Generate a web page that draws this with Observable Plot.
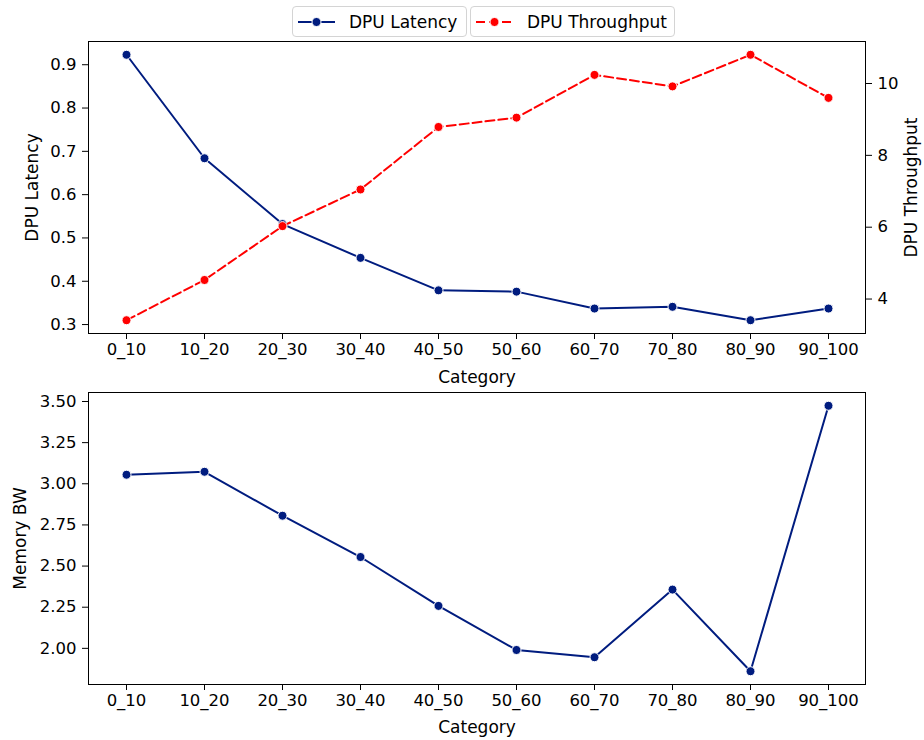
<!DOCTYPE html>
<html><head><meta charset="utf-8">
<script src="https://cdn.jsdelivr.net/npm/d3@7"></script>
<script src="https://cdn.jsdelivr.net/npm/@observablehq/plot@0.6"></script>
<style>
html,body{margin:0;padding:0;background:#fff;}
#wrap{position:relative;width:924px;height:740px;font-family:"DejaVu Sans",sans-serif;}
.chart{position:absolute;left:0;overflow:visible;}
.leg{position:absolute;top:6px;height:31px;box-sizing:border-box;border:1px solid #d4d4d4;border-radius:4px;background:#fff;display:flex;align-items:center;font-size:17px;color:#000;padding-left:5px;white-space:nowrap;}
.leg svg{margin-right:14px;flex-shrink:0;}
</style></head><body><div id="wrap"></div>
<script>
const categories = ["0_10","10_20","20_30","30_40","40_50","50_60","60_70","70_80","80_90","90_100"];
const dpuLatency = [0.923, 0.684, 0.532, 0.454, 0.379, 0.376, 0.337, 0.341, 0.310, 0.337];
const dpuThroughput = [3.41, 4.53, 6.03, 7.05, 8.79, 9.05, 10.24, 9.92, 10.80, 9.60];
const memoryBW = [3.055, 3.073, 2.806, 2.555, 2.258, 1.990, 1.946, 2.357, 1.861, 3.474];
const latencyTicks = [0.3, 0.4, 0.5, 0.6, 0.7, 0.8, 0.9];
const throughputTicks = [4, 6, 8, 10];
const memoryTicks = [2.00, 2.25, 2.50, 2.75, 3.00, 3.25, 3.50];

const BLUE = "#001c7f", RED = "#ff0000";
const rows = categories.map((c, i) => ({cat: c, latency: dpuLatency[i], throughput: dpuThroughput[i], mem: memoryBW[i]}));

function pad(vals) {
  const lo = d3.min(vals), hi = d3.max(vals), m = (hi - lo) * 0.05;
  return [lo - m, hi + m];
}

const common = {
  width: 924,
  marginLeft: 88,
  marginRight: 59,
  style: {fontFamily: "DejaVu Sans, sans-serif", fontSize: "16.5px", background: "transparent", color: "#000", overflow: "visible"},
  x: {type: "point", domain: categories, padding: 0.45}
};

function label(txt, opts) {
  return Plot.text([txt], {text: d => d, fontSize: 17, fill: "#000", lineAnchor: "middle", textAnchor: "middle", ...opts});
}

const wrap = document.getElementById("wrap");

// Legend
function legendBox(left, width, color, dash, text) {
  const d = document.createElement("div");
  d.className = "leg";
  d.style.left = left + "px";
  d.style.width = width + "px";
  d.innerHTML = `<svg width="37" height="12"><line x1="0" y1="6" x2="37" y2="6" stroke="${color}" stroke-width="2" ${dash ? 'stroke-dasharray="9,4"' : ''}/><circle cx="18.5" cy="6" r="4.5" fill="${color}" stroke="#fff" stroke-width="1"/></svg><span>${text}</span>`;
  wrap.appendChild(d);
}
legendBox(292, 175, BLUE, false, "DPU Latency");
legendBox(470, 205, RED, true, "DPU Throughput");

// Top chart: latency (left axis)
const p1 = Plot.plot({
  ...common,
  height: 352,
  marginTop: 3,
  marginBottom: 57,
  y: {domain: pad(dpuLatency)},
  marks: [
    Plot.frame({stroke: "#000", strokeWidth: 1}),
    Plot.axisX({tickSize: 6, tickPadding: 4, label: null}),
    Plot.axisY({ticks: latencyTicks, tickFormat: d3.format(".1f"), tickSize: 6, tickPadding: 6, label: null}),
    label("Category", {frameAnchor: "bottom", dy: 44}),
    label("DPU Latency", {frameAnchor: "left", dx: -56, rotate: -90}),
    Plot.line(rows, {x: "cat", y: "latency", stroke: BLUE, strokeWidth: 2}),
    Plot.dot(rows, {x: "cat", y: "latency", r: 4.5, fill: BLUE, stroke: "#fff", strokeWidth: 1})
  ]
});
p1.classList.add("chart");
p1.style.top = "38px";
wrap.appendChild(p1);

// Top chart overlay: throughput (right axis)
const p1b = Plot.plot({
  ...common,
  height: 352,
  marginTop: 3,
  marginBottom: 57,
  x: {...common.x, axis: null},
  y: {domain: pad(dpuThroughput), axis: null},
  marks: [
    Plot.axisY({anchor: "right", ticks: throughputTicks, tickFormat: d3.format("d"), tickSize: 6, tickPadding: 6, label: null}),
    label("DPU Throughput", {frameAnchor: "right", dx: 46, rotate: -90}),
    Plot.line(rows, {x: "cat", y: "throughput", stroke: RED, strokeWidth: 2, strokeDasharray: "9,4"}),
    Plot.dot(rows, {x: "cat", y: "throughput", r: 4.5, fill: RED, stroke: "#fff", strokeWidth: 1})
  ]
});
p1b.classList.add("chart");
p1b.style.top = "38px";
wrap.appendChild(p1b);

// Bottom chart: memory BW
const p2 = Plot.plot({
  ...common,
  height: 370,
  marginTop: 22,
  marginBottom: 56,
  y: {domain: pad(memoryBW)},
  marks: [
    Plot.frame({stroke: "#000", strokeWidth: 1}),
    Plot.axisX({tickSize: 6, tickPadding: 4, label: null}),
    Plot.axisY({ticks: memoryTicks, tickFormat: d3.format(".2f"), tickSize: 6, tickPadding: 6, label: null}),
    label("Category", {frameAnchor: "bottom", dy: 43}),
    label("Memory BW", {frameAnchor: "left", dx: -68, rotate: -90}),
    Plot.line(rows, {x: "cat", y: "mem", stroke: BLUE, strokeWidth: 2}),
    Plot.dot(rows, {x: "cat", y: "mem", r: 4.5, fill: BLUE, stroke: "#fff", strokeWidth: 1})
  ]
});
p2.classList.add("chart");
p2.style.top = "370px";
wrap.appendChild(p2);
</script>
</body></html>
